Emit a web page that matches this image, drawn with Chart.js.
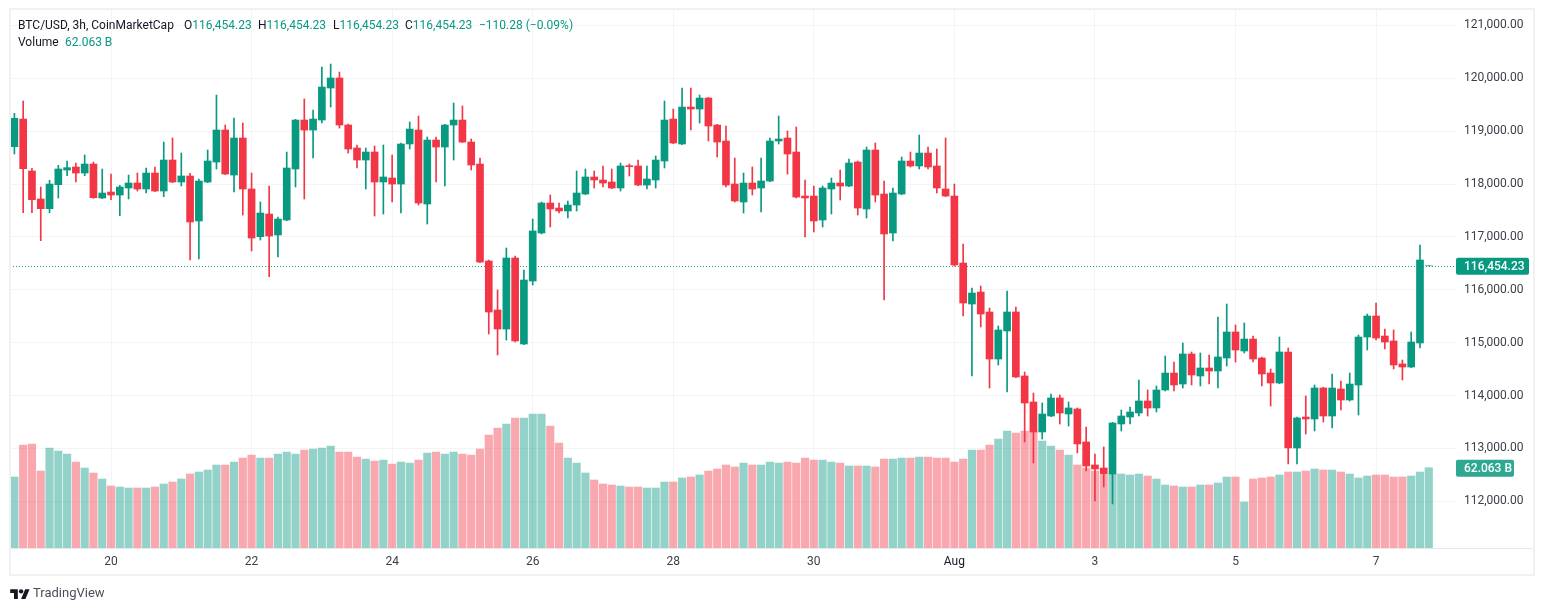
<!DOCTYPE html>
<html>
<head>
<meta charset="utf-8">
<title>BTC/USD</title>
<script src="https://cdn.jsdelivr.net/npm/chart.js@4"></script>
<style>
  html, body { margin: 0; padding: 0; background: #fff; }
  #wrap { position: relative; width: 1544px; height: 611px; overflow: hidden; font-family: Roboto, sans-serif; font-size: 12px; color: #131722; }
  #wrap span { position: absolute; white-space: nowrap; line-height: 16px; }
  .up { color: #089981; }
  #logo { position: absolute; left: 10px; top: 587px; }
  #brand { font-size: 13px; color: #4a4e59; }
</style>
</head>
<body>
<div id="wrap">
  <canvas id="myChart" width="1544" height="611"></canvas>
  <span style="left:18px;top:17px">BTC/USD, 3h, CoinMarketCap</span>
  <span style="left:184px;top:17px">O<b class="up" style="font-weight:400">116,454.23</b></span>
  <span style="left:258px;top:17px">H<b class="up" style="font-weight:400">116,454.23</b></span>
  <span style="left:333px;top:17px">L<b class="up" style="font-weight:400">116,454.23</b></span>
  <span style="left:405px;top:17px">C<b class="up" style="font-weight:400">116,454.23</b></span>
  <span class="up" style="left:479px;top:17px">−110.28 (−0.09%)</span>
  <span style="left:18px;top:34px">Volume</span>
  <span class="up" style="left:65px;top:34px">62.063 B</span>
  <svg id="logo" width="20" height="12" viewBox="0 0 36 22"><path fill="#131722" d="M14 22H7V11H0V4h14v18zM28 22h-8l7.5-18h8L28 22z"/><circle fill="#131722" cx="20" cy="8" r="4"/></svg>
  <span id="brand" style="left:33px;top:585px">TradingView</span>
</div>
<script>
const opens = [
  118707,119230,118247,117718,117535,117989,118266,118323,118209,118379,
  117737,117850,117793,117926,118020,117907,118209,117869,118455,118039,
  118153,117302,118039,118417,119022,118171,118871,117907,117005,117434,
  117037,117321,118285,119211,119022,119211,119817,120006,119117,118682,
  118455,118606,118039,118115,118001,118758,119022,117623,118833,118701,
  119117,119211,118795,118379,116545,115619,115259,116602,114976,116167,
  117075,117642,117547,117491,117604,117812,118134,118077,118039,117926,
  118348,118342,117982,118077,118436,119230,118758,119457,119419,119627,
  119117,118814,118001,117661,118020,117926,118058,118814,118871,118606,
  117774,117774,117321,117907,118020,117963,118417,117529,118644,117812,
  117075,117812,118436,118342,118587,118342,117907,117774,116507,115732,
  115959,115581,114692,115222,115581,114371,113879,113312,113614,113955,
  113652,113747,113123,112688,112631,112518,113463,113595,113671,113898,
  113766,114106,114427,114219,114787,114371,114522,114465,114711,115203,
  114844,115070,114711,114427,114238,114825,113009,113595,113558,114144,
  113614,114125,113917,114201,115108,115505,115127,115033,114598,114541,
  114995,116454.23
];
const highs = [
  119338,119571,118298,117945,118071,118354,118436,118398,118550,118417,
  118285,118190,117976,118171,118209,118304,118323,118795,118871,118587,
  118203,118096,118644,119684,119117,119249,119155,118209,117661,117963,
  117377,118606,119224,119609,119401,120214,120270,120119,119136,118739,
  118682,118720,118739,118550,118777,119174,119287,118890,118890,119130,
  119533,119476,118852,118493,116564,115997,116791,116640,116375,117339,
  117661,117793,117642,117680,118247,118285,118247,118342,118285,118398,
  118379,118455,118342,118531,119571,119419,119817,119817,119684,119640,
  119130,119098,118493,118209,118323,118493,118871,119287,119003,119079,
  118077,117963,117963,118115,118266,118474,118436,118701,118777,118058,
  117926,118512,118606,118928,118701,118663,118871,118001,116867,116035,
  116073,115657,115316,115978,115676,114446,114049,113860,114030,114012,
  113879,113766,113406,112896,113028,113495,113728,113785,114295,114106,
  114182,114749,114635,114995,114825,114806,114768,115486,115732,115335,
  115373,115127,114730,114503,115108,114900,113595,113993,114201,114156,
  114409,114276,114427,115146,115543,115751,115259,115241,114673,115203,
  116848,116454.23
];
const lows = [
  118569,117459,117459,116930,117459,117737,118159,118039,118159,117730,
  117724,117705,117402,117718,117869,117831,117856,117762,118027,117963,
  116564,116583,118027,118285,118178,117850,117415,116734,116942,116249,
  116621,117308,117945,117718,118493,119155,119457,119060,118587,118304,
  117907,117396,117434,117661,117453,118663,117604,117245,118039,117963,
  118455,118783,118266,116514,115165,114768,115051,115014,114963,116091,
  117056,117188,117453,117358,117491,117800,117926,117945,117913,117869,
  118153,117970,117907,117926,118304,118764,118745,119022,119155,118814,
  118512,117945,117661,117453,117793,117472,118046,118758,118190,117737,
  116999,117094,117188,117434,117699,117951,117415,117358,117661,115808,
  116923,117800,118323,118285,118285,117831,117762,116451,115505,114371,
  115297,114144,114579,114068,114339,113123,112726,113179,113602,113463,
  113425,112915,112574,112007,112272,111950,113331,113463,113614,113614,
  113690,114087,114087,114144,114201,114182,114219,114144,114560,114635,
  114806,114635,114182,113803,114226,112707,112707,113274,113331,113501,
  113388,113728,113898,113633,114862,115051,114881,114503,114295,114528,
  114900,116454.23
];
const closes = [
  119243,118291,117705,117535,118001,118285,118310,118209,118379,117743,
  117831,117793,117945,118020,117907,118209,117869,118455,118039,118153,
  117283,118058,118436,119022,118190,118871,117907,116980,117453,117018,
  117339,118304,119211,119022,119230,119835,120006,119117,118663,118455,
  118606,118039,118134,118001,118758,119041,117642,118833,118701,119117,
  119211,118795,118361,116526,115581,115259,116602,115033,116186,117113,
  117642,117529,117491,117604,117831,118134,118077,118020,117926,118342,
  118329,117982,118096,118455,119211,118777,119457,119419,119627,119098,
  118795,117982,117680,118020,117907,118058,118814,118852,118569,117755,
  117737,117302,117926,118020,117963,118398,117547,118644,117793,117056,
  117831,118436,118342,118587,118323,117926,117774,116470,115751,115940,
  115543,114692,115241,115581,114352,113860,113312,113652,113955,113671,
  113766,113085,112669,112612,112518,113482,113614,113690,113898,113766,
  114106,114427,114201,114787,114390,114522,114465,114730,115203,114862,
  115070,114692,114409,114238,114825,113009,113577,113558,114144,113614,
  114144,113917,114219,115108,115505,115089,115014,114579,114541,115014,
  116564.51,116454.23
];
// volume in billions
const volumes = [
  54.87,79.6,80.37,59.5,77.28,74.96,72.64,66.46,61.82,57.96,
  53.32,47.91,47.14,46.37,46.37,46.37,47.14,49.46,51.0,53.32,
  57.19,58.73,60.28,64.14,64.14,66.46,69.55,71.87,69.55,69.55,
  72.64,74.19,72.64,75.73,76.51,77.28,78.83,74.19,74.19,70.32,
  68.78,67.23,68.01,64.92,66.46,65.69,68.01,73.42,74.19,72.64,
  74.19,72.64,71.87,76.51,87.33,92.74,95.83,100.46,100.46,103.56,
  103.56,94.28,81.14,69.55,65.69,57.96,52.55,49.46,48.69,47.91,
  47.14,47.14,46.37,46.37,51.0,51.0,54.1,54.87,56.41,59.5,
  61.05,64.14,62.6,65.69,64.14,64.14,66.46,65.69,66.46,65.69,
  69.55,68.01,68.01,66.46,65.69,63.37,63.37,63.37,62.6,68.78,
  68.78,69.55,69.55,70.32,70.32,69.55,69.55,66.46,68.78,75.73,
  75.73,79.6,84.24,90.42,88.87,90.42,90.42,82.69,78.83,75.73,
  71.87,64.14,61.82,59.5,56.41,57.19,57.19,56.41,57.19,55.64,
  53.32,48.69,47.91,47.14,47.14,48.69,48.69,50.23,54.87,54.87,
  35.55,53.32,54.1,54.87,56.41,58.73,58.73,59.5,61.05,60.28,
  60.28,58.73,57.19,54.1,55.64,56.41,56.41,54.87,54.87,55.64,
  58.73,62.063
];
const dayTicks = [11, 27, 43, 59, 75, 91, 107, 123, 139, 155];
const dayLabels = ['20', '22', '24', '26', '28', '30', 'Aug', '3', '5', '7'];
const priceTicks = [112000, 113000, 114000, 115000, 116000, 117000, 118000, 119000, 120000, 121000];
const lastPrice = 116454.23;
const lastVolume = 62.063;

const UP = '#089981';
const DOWN = '#F23645';
const GRID = '#f3f4f6';

const isUp = i => closes[i] >= opens[i];
const candleColors = opens.map((o, i) => isUp(i) ? UP : DOWN);
const volumeColors = opens.map((o, i) => isUp(i) ? 'rgba(8,153,129,0.44)' : 'rgba(242,54,69,0.43)');

function roundRect(ctx, x, y, w, h, r) {
  ctx.beginPath();
  ctx.roundRect(x, y, w, h, r);
  ctx.fill();
}

// dotted last price line, price tags and the frame around the chart
const overlayPlugin = {
  id: 'overlay',
  beforeDatasetsDraw(chart) {
    const ctx = chart.ctx, area = chart.chartArea;
    const y = Math.round(chart.scales.y.getPixelForValue(lastPrice)) + 0.5;
    ctx.save();
    ctx.strokeStyle = '#17a58d';
    ctx.lineWidth = 1;
    ctx.setLineDash([1, 2]);
    ctx.beginPath();
    ctx.moveTo(area.left, y);
    ctx.lineTo(area.right, y);
    ctx.stroke();
    ctx.restore();
  },
  afterDraw(chart) {
    const ctx = chart.ctx, area = chart.chartArea;
    ctx.save();
    ctx.strokeStyle = '#e6e8ec';
    ctx.lineWidth = 1;
    ctx.beginPath();
    ctx.moveTo(area.left, 548.5);
    ctx.lineTo(1534, 548.5);
    ctx.stroke();
    ctx.strokeStyle = '#f0f1f3';
    ctx.lineWidth = 2;
    ctx.strokeRect(10, 9, 1524, 566);

    ctx.font = '500 12px Roboto, sans-serif';
    ctx.textBaseline = 'middle';
    ctx.textAlign = 'left';
    const py = chart.scales.y.getPixelForValue(lastPrice);
    ctx.fillStyle = UP;
    roundRect(ctx, 1456, py - 8, 73, 17, 2);
    ctx.fillStyle = '#fff';
    ctx.fillText('116,454.23', 1464, py + 1);

    const vy = chart.scales.y1.getPixelForValue(lastVolume);
    ctx.fillStyle = '#2fa892';
    roundRect(ctx, 1456, vy - 8, 58, 17, 2);
    ctx.fillStyle = '#fff';
    ctx.fillText(lastVolume.toFixed(3) + ' B', 1464, vy + 1);
    ctx.restore();
  }
};

let ctx = document.getElementById('myChart').getContext('2d');
new Chart(ctx, {
  type: 'bar',
  data: {
    datasets: [
      {
        // candle bodies
        data: opens.map((o, i) => ({ x: i, y: [Math.min(o, closes[i]), Math.max(o, closes[i])] })),
        backgroundColor: candleColors,
        barThickness: 7,
        grouped: false,
        order: 1
      },
      {
        // wicks
        data: highs.map((h, i) => ({ x: i, y: [lows[i], h] })),
        backgroundColor: candleColors,
        barThickness: 1,
        grouped: false,
        order: 2
      },
      {
        data: volumes.map((v, i) => ({ x: i, y: v })),
        backgroundColor: volumeColors,
        barThickness: 7.5,
        grouped: false,
        yAxisID: 'y1',
        order: 3
      }
    ]
  },
  options: {
    responsive: false,
    animation: false,
    layout: { padding: { left: 10, top: 10, right: 0, bottom: 0 } },
    plugins: { legend: { display: false }, tooltip: { enabled: false } },
    scales: {
      x: {
        type: 'linear',
        min: -0.5,
        max: 164.1,
        offset: false,
        afterBuildTicks: scale => { scale.ticks = dayTicks.map(v => ({ value: v })); },
        afterFit: scale => { scale.height = 63; scale.paddingLeft = 0; scale.paddingRight = 0; },
        grid: { color: GRID, drawTicks: false, offset: false },
        border: { display: false },
        ticks: {
          autoSkip: false,
          maxRotation: 0,
          padding: 7,
          font: { family: 'Roboto', size: 12 },
          color: c => dayLabels[c.index] === 'Aug' ? '#131722' : '#3c4049',
          callback: (value) => dayLabels[dayTicks.indexOf(value)]
        }
      },
      y: {
        position: 'right',
        min: 111118,
        max: 121292,
        afterBuildTicks: scale => { scale.ticks = priceTicks.map(v => ({ value: v })); },
        // keep the tick labels from pushing the plot area down
        afterFit: scale => { scale.width = 88; scale.paddingTop = 0; scale.paddingBottom = 0; },
        grid: { color: GRID, drawTicks: false },
        border: { display: false },
        ticks: {
          autoSkip: false,
          padding: 8,
          font: { family: 'Roboto', size: 12 },
          color: '#3c4049',
          callback: v => v.toLocaleString('en-US', { minimumFractionDigits: 2 })
        }
      },
      y1: {
        display: false,
        min: 0,
        max: 415.8
      }
    }
  },
  plugins: [overlayPlugin]
});
</script>
</body>
</html>
